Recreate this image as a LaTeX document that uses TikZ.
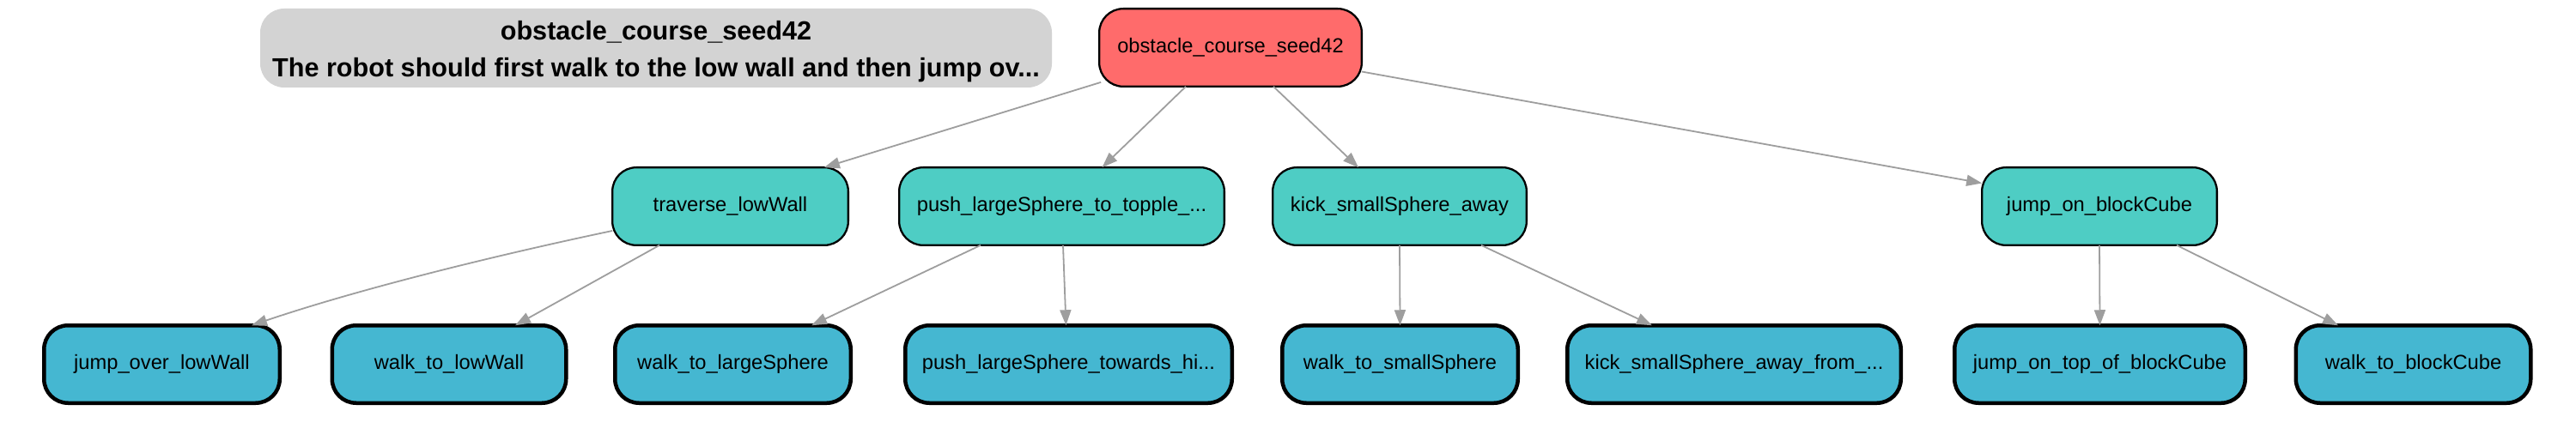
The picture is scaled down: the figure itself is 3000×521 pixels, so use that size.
\documentclass[tikz,border=0pt]{standalone}
\usepackage{fontspec}
\setmainfont{Liberation Sans}
\usetikzlibrary{arrows.meta,calc}
\definecolor{rootred}{HTML}{FF6B6B}
\definecolor{midteal}{HTML}{4ECDC4}
\definecolor{leafblue}{HTML}{45B7D1}
\definecolor{labelgray}{HTML}{D3D3D3}
\definecolor{edgegray}{HTML}{9E9E9E}
\newcommand{\nodefontsz}{\fontsize{23.7pt}{28pt}\selectfont}
\newcommand{\titlefontsz}{\fontsize{30.6pt}{43.3pt}\selectfont\bfseries}
\tikzset{
  basebox/.style={rectangle, rounded corners=28pt, inner sep=0pt, outer sep=0pt,
    font=\nodefontsz, text height=17pt, text depth=5pt, align=center, text=black},
  rootnode/.style={basebox, fill=rootred, draw=black, line width=2.3pt,
    minimum height=90.7pt},
  midnode/.style={basebox, fill=midteal, draw=black, line width=2.3pt,
    minimum height=90.7pt},
  leafnode/.style={basebox, fill=leafblue, draw=black, line width=4.5pt,
    minimum height=90.5pt},
  titlebox/.style={rectangle, rounded corners=28pt, inner sep=0pt, outer sep=0pt,
    fill=labelgray, minimum width=922pt, minimum height=92pt,
    font=\titlefontsz, align=center, text=black},
  edgeline/.style={draw=edgegray, line width=1.8pt,
    -{Triangle[length=18pt,width=13pt]}},
}
\begin{document}
\begin{tikzpicture}[x=1pt,y=-1pt]
\useasboundingbox (0,0) rectangle (3000,521);
% title label
\node[titlebox] (title) at (764,56) {};
\node[font=\titlefontsz, align=center, inner sep=0pt, anchor=base] (titletxt)
  at ([yshift=-34pt]title.center)
  {obstacle\_course\_seed42\\The robot should first walk to the low wall and then jump ov...};
% root
\node[rootnode, minimum width=305.7pt] (root) at (1433,55.5) {obstacle\_course\_seed42};
% level 1
\node[midnode, minimum width=274.7pt] (traverse) at (850.5,240.5) {traverse\_lowWall};
\node[midnode, minimum width=378.7pt] (pushtopple) at (1236.5,240.5) {push\_largeSphere\_to\_topple\_...};
\node[midnode, minimum width=295.7pt] (kick) at (1630,240.5) {kick\_smallSphere\_away};
\node[midnode, minimum width=273.7pt] (jumpblock) at (2445,240.5) {jump\_on\_blockCube};
% level 2
\node[leafnode, minimum width=274.5pt] (jumpover) at (188.5,424.5) {jump\_over\_lowWall};
\node[leafnode, minimum width=272.5pt] (walklow) at (523,424.5) {walk\_to\_lowWall};
\node[leafnode, minimum width=274.5pt] (walklarge) at (853.5,424.5) {walk\_to\_largeSphere};
\node[leafnode, minimum width=380.5pt] (pushtowards) at (1244.5,424.5) {push\_largeSphere\_towards\_hi...};
\node[leafnode, minimum width=274.5pt] (walksmall) at (1630.5,424.5) {walk\_to\_smallSphere};
\node[leafnode, minimum width=388.5pt] (kickaway) at (2019.5,424.5) {kick\_smallSphere\_away\_from\_...};
\node[leafnode, minimum width=338.5pt] (jumptop) at (2445.5,424.5) {jump\_on\_top\_of\_blockCube};
\node[leafnode, minimum width=273.5pt] (walkblock) at (2810.5,424.5) {walk\_to\_blockCube};
% edges
\draw[edgeline] ([xshift=2pt,yshift=5pt]root.south west) -- ([xshift=-28pt]traverse.north east);
\draw[edgeline] ([xshift=-52pt]root.south) -- ([xshift=47pt]pushtopple.north);
\draw[edgeline] ([xshift=50pt]root.south) -- ([xshift=-48pt]kick.north);
\draw[edgeline] ([yshift=-28pt]root.east) -- ([yshift=27pt]jumpblock.west);
\draw[edgeline] ([yshift=-28.5pt]traverse.west) .. controls +(-133,28) and +(127,-43) .. ([xshift=104.5pt]jumpover.north);
\draw[edgeline] ([xshift=-82.5pt]traverse.south) -- ([xshift=77pt]walklow.north);
\draw[edgeline] ([xshift=-94.5pt]pushtopple.south) -- ([xshift=91.5pt]walklarge.north);
\draw[edgeline] ([xshift=1.5pt]pushtopple.south) -- ([xshift=-3pt]pushtowards.north);
\draw[edgeline] (kick.south) -- (walksmall.north);
\draw[edgeline] ([xshift=95pt]kick.south) -- ([xshift=-95.5pt]kickaway.north);
\draw[edgeline] (jumpblock.south) -- (jumptop.north);
\draw[edgeline] ([xshift=90pt]jumpblock.south) -- ([xshift=-87.5pt]walkblock.north);
\end{tikzpicture}
\end{document}
